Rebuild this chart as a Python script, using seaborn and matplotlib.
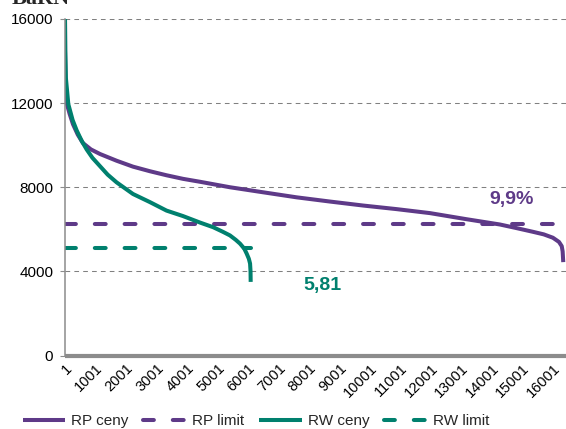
import matplotlib
matplotlib.use("Agg")
import matplotlib.pyplot as plt
import seaborn as sns
import pandas as pd

# ---- data ----
rp_idx = [1, 5, 20, 56, 150, 262, 420, 590, 850, 1150, 1695, 2230, 2790, 3330, 3870, 4430,
          5410, 6500, 7600, 8690, 9780, 10875, 11970, 13170, 14260, 14800, 15350, 15700,
          16000, 16200, 16290, 16320, 16340]
rp_val = [16000, 14500, 13000, 12000, 11500, 11000, 10500, 10100, 9800, 9580, 9260, 8980,
          8760, 8570, 8400, 8260, 8000, 7760, 7520, 7320, 7130, 6960, 6770, 6480, 6230, 6060,
          5880, 5760, 5600, 5400, 5200, 4950, 4440]
rw_idx = [1, 10, 30, 110, 250, 385, 550, 710, 900, 1150, 1400, 1695, 2230, 2790, 3330, 3870,
          4430, 4860, 5180, 5410, 5600, 5740, 5880, 5960, 6030, 6070, 6085, 6090]
rw_val = [16000, 14500, 13200, 11950, 11200, 10700, 10200, 9800, 9400, 9000, 8600, 8230,
          7680, 7290, 6890, 6630, 6320, 6100, 5880, 5710, 5500, 5320, 5080, 4840, 4600, 4370,
          4000, 3500]
rp_limit = 6250
rw_limit = 5100
series_names = ["RP ceny", "RP limit", "RW ceny", "RW limit"]
rp_label = "9,9%"
rw_label = "5,81"
y_ticks = [0, 4000, 8000, 12000, 16000]
x_ticks = list(range(1, 16002, 1000))
x_max = 16430

RP_COLOR = "#5E3A88"
RW_COLOR = "#00806E"

sns.set_theme(style="white")
plt.rcParams["font.family"] = ["Liberation Sans", "DejaVu Sans"]

fig = plt.figure(figsize=(5.66, 4.29), dpi=100)
ax = fig.add_axes([65 / 566, 1 - 355.5 / 429, (566 - 65) / 566, (355.5 - 19) / 429])

rp_df = pd.DataFrame({"idx": rp_idx, "val": rp_val})
rw_df = pd.DataFrame({"idx": rw_idx, "val": rw_val})
rw_lim_df = pd.DataFrame({"idx": rw_idx, "val": [rw_limit] * len(rw_idx)})

lw = 2.9
sns.lineplot(data=rp_df, x="idx", y="val", ax=ax, color=RP_COLOR, lw=lw,
             label=series_names[0], solid_capstyle="butt", solid_joinstyle="round")
rp_lim_line = ax.axhline(rp_limit, color=RP_COLOR, lw=lw, label=series_names[1],
                         dash_capstyle="round")
rp_lim_line.set_dashes([2.7, 4.7])
sns.lineplot(data=rw_df, x="idx", y="val", ax=ax, color=RW_COLOR, lw=lw,
             label=series_names[2], solid_capstyle="butt", solid_joinstyle="round")
sns.lineplot(data=rw_lim_df, x="idx", y="val", ax=ax, color=RW_COLOR, lw=lw,
             label=series_names[3])
rw_lim_line = ax.get_lines()[-1]
rw_lim_line.set_dashes([2.7, 4.7])
rw_lim_line.set_dash_capstyle("round")

ax.set_xlim(1, x_max)
ax.set_ylim(0, 16000)
ax.set_yticks(y_ticks)
ax.set_yticklabels([str(t) for t in y_ticks])
ax.set_xticks(x_ticks)
ax.set_xticklabels([str(t) for t in x_ticks], rotation=45, ha="right",
                   rotation_mode="anchor")
ax.set_xlabel("")
ax.set_ylabel("")

ax.yaxis.grid(True, color="#808080", lw=0.75, linestyle=(0, (4.5, 4)))
ax.xaxis.grid(False)
ax.set_axisbelow(True)

for s in ["top", "right"]:
    ax.spines[s].set_visible(False)
ax.spines["left"].set_color("#8C8C8C")
ax.spines["left"].set_linewidth(1.1)
ax.spines["bottom"].set_color("#8C8C8C")
ax.spines["bottom"].set_linewidth(3.0)
ax.spines["bottom"].set_capstyle("butt")

ax.tick_params(axis="y", which="both", left=True, length=3.5, width=0.8, color="#8C8C8C",
               pad=5, labelsize=11, labelcolor="black")
ax.tick_params(axis="x", which="both", bottom=False, length=0, pad=4, labelsize=10.5,
               labelcolor="black")

ax.text(14650, 7400, rp_label, color=RP_COLOR, fontsize=14, fontweight="bold",
        ha="center", va="center")
ax.text(8450, 3330, rw_label, color=RW_COLOR, fontsize=14, fontweight="bold",
        ha="center", va="center")

fig.text(12 / 566, 1 - 4 / 429, "BaRN", fontsize=16, fontweight="bold",
         family=["Liberation Serif", "DejaVu Serif"], ha="left", va="baseline")

handles, labels = ax.get_legend_handles_labels()
ax.legend(handles, labels, loc="center", bbox_to_anchor=(0.452, 0.018),
          bbox_transform=fig.transFigure, ncol=4, frameon=False, fontsize=11,
          handlelength=2.8, handletextpad=0.4, columnspacing=0.95)

fig.savefig("out.png", dpi=100)
